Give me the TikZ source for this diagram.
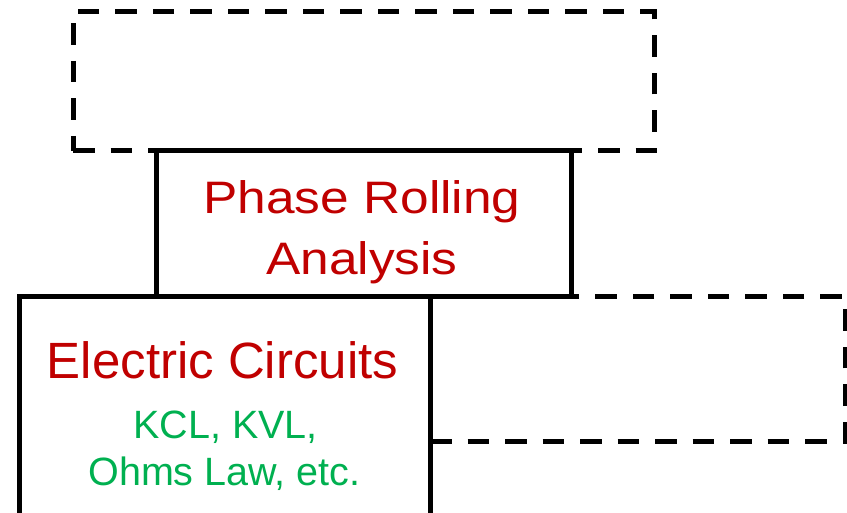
\documentclass[tikz,border=0pt]{standalone}
\usepackage{fontspec}
\setmainfont{Liberation Sans}
\definecolor{titlered}{HTML}{C00000}
\definecolor{notegreen}{HTML}{00B050}
\tikzset{
    solidbox/.style={draw,line width=5pt,inner sep=0pt,outer sep=0pt,anchor=north west},
    dashbox/.style={draw,line width=5pt,inner sep=0pt,outer sep=0pt,anchor=north west,dash pattern=on 21.5pt off 16pt},
    title/.style={titlered,anchor=base,inner sep=0pt,font=\fontsize{51}{61}\selectfont},
    note/.style={notegreen,anchor=base,inner sep=0pt,font=\fontsize{39.5}{47}\selectfont}
}
\begin{document}
\begin{tikzpicture}[x=1pt,y=-1pt]
    \useasboundingbox (0,0) rectangle (847,513);
    \clip (0,0) rectangle (847,513);

    % Kotak putus-putus
    \node[dashbox,minimum width=581pt,minimum height=139pt] (upper) at (73,12) {};
    \node[dashbox,minimum width=415pt,minimum height=144pt] (side) at (430,297) {};

    % Kotak utama
    \node[solidbox,minimum width=415pt,minimum height=146pt] (phase) at (156,151) {};
    \node[solidbox,minimum width=411pt,minimum height=240pt] (circuits) at (19,297) {};

    % Teks
    \node[title,xscale=1.13,font=\fontsize{45.5}{62}\selectfont] (phasea) at (362,213.3) {Phase Rolling};
    \node[title,xscale=1.13,font=\fontsize{45.5}{62}\selectfont] (phaseb) at (362,275) {Analysis};
    \node[title] (circa) at (222.5,378.3) {Electric Circuits};
    \node[note] (lawa) at (225.5,438) {KCL, KVL,};
    \node[note] (lawb) at (224.5,485) {Ohms Law, etc.};
\end{tikzpicture}
\end{document}
